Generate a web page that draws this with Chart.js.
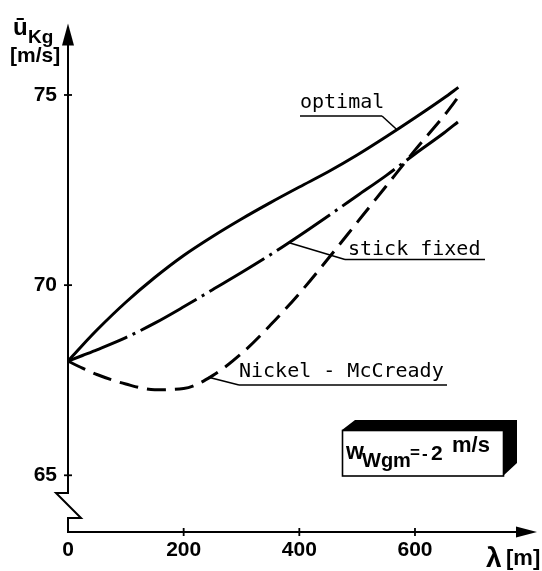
<!DOCTYPE html>
<html>
<head>
<meta charset="utf-8">
<script src="https://cdn.jsdelivr.net/npm/chart.js@4.4.1/dist/chart.umd.min.js"></script>
<style>
html,body{margin:0;padding:0;background:#fff;}
#wrap{width:542px;height:571px;position:relative;}
</style>
</head>
<body>
<div id="wrap"><canvas id="c" width="542" height="571"></canvas></div>
<script>
// ---- data ----
const lambda = [0, 25, 50, 100, 150, 200, 250, 300, 350, 400, 450, 500, 550, 600, 650, 675];
const optimal = [68, 68.42, 68.82, 69.55, 70.2, 70.78, 71.28, 71.74, 72.17, 72.58, 72.98, 73.42, 73.9, 74.4, 74.92, 75.2];
const stickFixed = [68, 68.15, 68.3, 68.62, 69.0, 69.43, 69.88, 70.33, 70.8, 71.3, 71.82, 72.35, 72.88, 73.45, 74.0, 74.3];
const nickelMcCready = [68, 67.82, 67.65, 67.4, 67.25, 67.28, 67.62, 68.2, 68.95, 69.78, 70.7, 71.65, 72.6, 73.55, 74.45, 74.95];
const xTicks = [0, 200, 400, 600];
const yTicks = [65, 70, 75];
const seriesNames = ['optimal', 'stick fixed', 'Nickel - McCready'];

const pts = arr => lambda.map((x, i) => ({x: x, y: arr[i]}));

const SANS = "'Liberation Sans', Arial, sans-serif";
const MONO = "'DejaVu Sans Mono', 'Liberation Mono', monospace";

const decor = {
  id: 'decor',
  afterDraw(chart) {
    const ctx = chart.ctx;
    const xs = chart.scales.x, ys = chart.scales.y;
    const ax = xs.getPixelForValue(0);
    const ay = ys.bottom;
    const px = (l) => xs.getPixelForValue(l);
    const py = (v) => ys.getPixelForValue(v);
    ctx.save();
    ctx.strokeStyle = '#000';
    ctx.fillStyle = '#000';
    ctx.lineWidth = 2;
    ctx.lineCap = 'butt';
    // y axis with break
    ctx.beginPath();
    ctx.moveTo(ax, ys.top + 18);
    ctx.lineTo(ax, 493);
    ctx.lineTo(56, 493);
    ctx.lineTo(81, 518);
    ctx.lineTo(ax, 518);
    ctx.lineTo(ax, ay);
    ctx.lineTo(xs.right - 18, ay);
    ctx.stroke();
    // arrows
    ctx.beginPath();
    ctx.moveTo(ax, ys.top);
    ctx.lineTo(ax - 6, ys.top + 22);
    ctx.lineTo(ax + 6, ys.top + 22);
    ctx.closePath();
    ctx.fill();
    ctx.beginPath();
    ctx.moveTo(xs.right, ay);
    ctx.lineTo(xs.right - 21, ay - 5.5);
    ctx.lineTo(xs.right - 21, ay + 5.5);
    ctx.closePath();
    ctx.fill();
    // tick marks
    ctx.lineWidth = 1.8;
    yTicks.forEach(v => {
      const y = py(v);
      ctx.beginPath(); ctx.moveTo(ax - 4, y); ctx.lineTo(ax + 4, y); ctx.stroke();
    });
    xTicks.forEach(l => {
      if (l === 0) return;
      const x = px(l);
      ctx.beginPath(); ctx.moveTo(x, ay - 4); ctx.lineTo(x, ay + 4); ctx.stroke();
    });
    // axis titles
    ctx.textBaseline = 'alphabetic';
    ctx.textAlign = 'left';
    ctx.font = 'bold 24px ' + SANS;
    ctx.fillText('ū', 13, 35);
    ctx.font = 'bold 19px ' + SANS;
    ctx.fillText('Kg', 28, 43);
    ctx.font = 'bold 21px ' + SANS;
    ctx.fillText('[m/s]', 10, 62);
    ctx.font = 'bold 28px ' + SANS;
    ctx.fillText('λ', 486, 567);
    ctx.font = 'bold 22px ' + SANS;
    ctx.fillText('[m]', 506, 565);

    // curve annotations
    ctx.font = '20px ' + MONO;
    ctx.lineWidth = 1.5;
    const ann = [
      {t: seriesNames[0], tx: 300, ty: 108, ux0: 300, ux1: 382, uy: 116, lx0: 382, lp: [568, 74.1]},
      {t: seriesNames[1], tx: 348, ty: 255, ux0: 345, ux1: 485, uy: 259.5, lx0: 345, lp: [381, 71.12]},
      {t: seriesNames[2], tx: 239, ty: 377, ux0: 239, ux1: 447, uy: 385, lx0: 239, lp: [243, 67.58]}
    ];
    ann.forEach(a => {
      ctx.fillText(a.t, a.tx, a.ty);
      ctx.beginPath();
      ctx.moveTo(a.ux1, a.uy);
      ctx.lineTo(a.ux0, a.uy);
      ctx.stroke();
      ctx.beginPath();
      ctx.moveTo(a.lx0, a.uy);
      ctx.lineTo(px(a.lp[0]), py(a.lp[1]));
      ctx.stroke();
    });

    // 3D box
    ctx.beginPath();
    ctx.moveTo(342, 430);
    ctx.lineTo(355, 420);
    ctx.lineTo(517, 420);
    ctx.lineTo(517, 463);
    ctx.lineTo(503, 476);
    ctx.lineTo(503, 430);
    ctx.closePath();
    ctx.fill();
    ctx.fillStyle = '#fff';
    ctx.fillRect(342, 430, 161, 46);
    ctx.lineWidth = 1.6;
    ctx.strokeStyle = '#000';
    ctx.strokeRect(342.5, 430.5, 161, 45.5);
    ctx.fillStyle = '#000';
    ctx.font = 'bold 23px ' + SANS;
    ctx.fillText('w', 346, 459);
    ctx.font = 'bold 20px ' + SANS;
    ctx.fillText('Wgm', 362, 467);
    ctx.font = 'bold 17px ' + SANS;
    ctx.fillText('=', 410, 458);
    ctx.fillText('-', 422, 459);
    ctx.font = 'bold 21px ' + SANS;
    ctx.fillText('2', 431, 460);
    ctx.font = 'bold 22px ' + SANS;
    ctx.fillText('m/s', 452, 452);
    ctx.restore();
  }
};

new Chart(document.getElementById('c'), {
  type: 'line',
  data: {
    datasets: [
      {label: seriesNames[0], data: pts(optimal), borderColor: '#000', borderWidth: 3, pointRadius: 0, cubicInterpolationMode: 'monotone', fill: false},
      {label: seriesNames[1], data: pts(stickFixed), borderColor: '#000', borderWidth: 3, pointRadius: 0, cubicInterpolationMode: 'monotone', fill: false, borderDash: [64, 6, 3, 6]},
      {label: seriesNames[2], data: pts(nickelMcCready), borderColor: '#000', borderWidth: 3, pointRadius: 0, cubicInterpolationMode: 'monotone', fill: false, borderDash: [19, 9]}
    ]
  },
  options: {
    responsive: false,
    animation: false,
    devicePixelRatio: 1,
    layout: {padding: {top: 12, right: 5, left: 0, bottom: 0}},
    plugins: {legend: {display: false}, tooltip: {enabled: false}},
    scales: {
      x: {
        type: 'linear', min: 0, max: 811,
        grid: {display: false, drawTicks: false},
        border: {display: false},
        afterBuildTicks: s => { s.ticks = xTicks.map(v => ({value: v})); },
        afterFit: s => { s.height = 39; },
        ticks: {color: '#000', padding: 6, font: {family: SANS, size: 21, weight: 'bold'}, maxRotation: 0, autoSkip: false}
      },
      y: {
        type: 'linear', min: 63.509, max: 76.877,
        grid: {display: false, drawTicks: false},
        border: {display: false},
        afterBuildTicks: s => { s.ticks = yTicks.map(v => ({value: v})); },
        afterFit: s => { s.width = 68; },
        ticks: {color: '#000', padding: 11, font: {family: SANS, size: 21, weight: 'bold'}, autoSkip: false}
      }
    }
  },
  plugins: [decor]
});
</script>
</body>
</html>
